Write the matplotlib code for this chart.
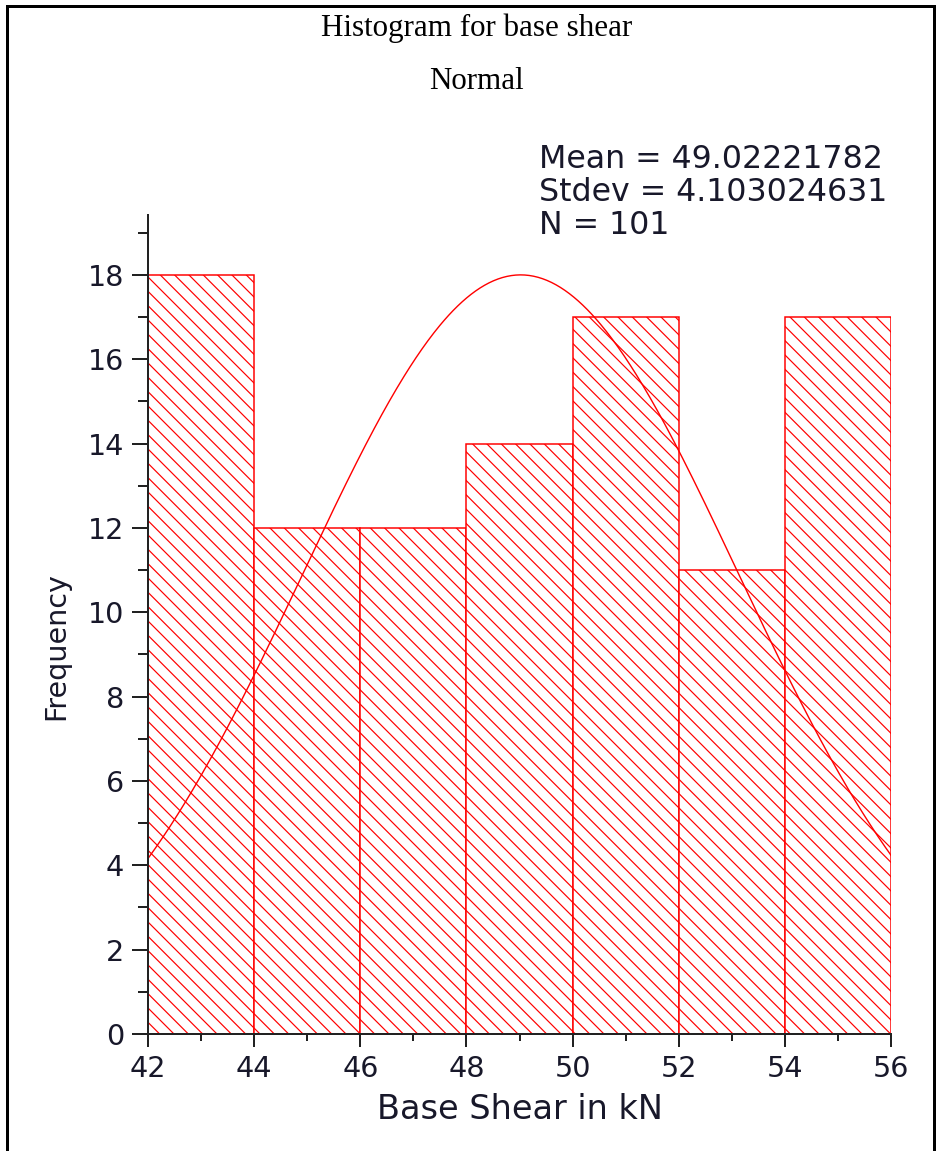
import numpy as np
import matplotlib
matplotlib.use("Agg")
import matplotlib.pyplot as plt
from matplotlib.lines import Line2D
from matplotlib.ticker import MultipleLocator

# ---------------- data ----------------
bin_edges = [42, 44, 46, 48, 50, 52, 54, 56]
frequencies = [18, 12, 12, 14, 17, 11, 17]
mean_val = 49.02221782
stdev_val = 4.103024631
n_val = 101
x_ticks = [42, 44, 46, 48, 50, 52, 54, 56]
y_ticks = [0, 2, 4, 6, 8, 10, 12, 14, 16, 18]
title_text = "Histogram for base shear"
subtitle_text = "Normal"
x_label = "Base Shear in kN"
y_label = "Frequency"

# ---------------- figure ----------------
W, H, DPI = 937, 1151, 86
PT = 72.0 / DPI  # pixels -> points

plt.rcParams['hatch.linewidth'] = 1.2 * PT

fig = plt.figure(figsize=(W / DPI, H / DPI), dpi=DPI)
fig.patch.set_facecolor('white')


def fx(px):
    return px / W


def fy(py):
    return 1 - py / H


ax = fig.add_axes([fx(148), fy(1034), fx(891) - fx(148), fy(215) - fy(1034)])

lefts = bin_edges[:-1]
widths = np.diff(bin_edges)
ax.bar(lefts, frequencies, width=widths, align='edge', facecolor='white',
       edgecolor='red', linewidth=1.5 * PT, hatch='\\\\', zorder=2)

# fitted normal curve (scaled to the tallest bin)
xs = np.linspace(bin_edges[0], bin_edges[-1], 500)
peak = max(frequencies)
ys = peak * np.exp(-0.5 * ((xs - mean_val) / stdev_val) ** 2)
ax.plot(xs, ys, color='red', linewidth=1.4 * PT, zorder=3)

ax.set_xlim(bin_edges[0], bin_edges[-1])
ax.set_ylim(0, 19.42)

ax.set_xticks(x_ticks)
ax.set_yticks(y_ticks)
ax.xaxis.set_minor_locator(MultipleLocator(1))
ax.yaxis.set_minor_locator(MultipleLocator(1))

spine_col = '#222222'
label_col = '#18182a'
for s in ['top', 'right']:
    ax.spines[s].set_visible(False)
for s in ['left', 'bottom']:
    ax.spines[s].set_linewidth(2 * PT)
    ax.spines[s].set_color(spine_col)
    ax.spines[s].set_zorder(4)

ax.tick_params(axis='x', which='major', direction='out', length=13 * PT,
               width=2 * PT, color=spine_col, pad=8 * PT,
               labelsize=24, labelcolor=label_col)
ax.tick_params(axis='x', which='minor', direction='out', length=7 * PT,
               width=2 * PT, color=spine_col)
ax.tick_params(axis='y', which='major', direction='out', length=16 * PT,
               width=2 * PT, color=spine_col, pad=8 * PT,
               labelsize=24, labelcolor=label_col)
ax.tick_params(axis='y', which='minor', direction='out', length=10 * PT,
               width=2 * PT, color=spine_col)
for lab in ax.get_xticklabels() + ax.get_yticklabels():
    lab.set_family('DejaVu Sans')

ax.set_xlabel(x_label, fontsize=28, family='DejaVu Sans', color=label_col)
ax.xaxis.label.set_va('baseline')
ax.xaxis.set_label_coords(0.5, (1034 - 1119) / (1034 - 215))

ax.set_ylabel(y_label, fontsize=24, family='DejaVu Sans', color=label_col)
ax.yaxis.label.set_va('baseline')
ax.yaxis.set_label_coords((64 - 148) / (891 - 148), (1034 - 646) / (1034 - 215))

# titles
fig.text(fx(477), fy(36), title_text, family='Liberation Serif', fontsize=26,
         ha='center', va='baseline', color='black')
fig.text(fx(476), fy(89), subtitle_text, family='Liberation Serif', fontsize=26,
         ha='center', va='baseline', color='black')

# statistics text
stats = [f"Mean = {mean_val:.8f}", f"Stdev = {stdev_val:.9f}", f"N = {n_val}"]
for txt, base in zip(stats, [168, 201, 234]):
    fig.text(fx(539), fy(base), txt, family='DejaVu Sans', fontsize=26.5,
             ha='left', va='baseline', color=label_col)

# page frame (left, top, right)
frame = Line2D([fx(6.5), fx(6.5), fx(934), fx(934)],
               [fy(H + 5), fy(6), fy(6), fy(H + 5)],
               transform=fig.transFigure, color='black', linewidth=3 * PT,
               solid_joinstyle='miter')
fig.add_artist(frame)

fig.savefig('out.png', dpi=DPI, facecolor='white')
